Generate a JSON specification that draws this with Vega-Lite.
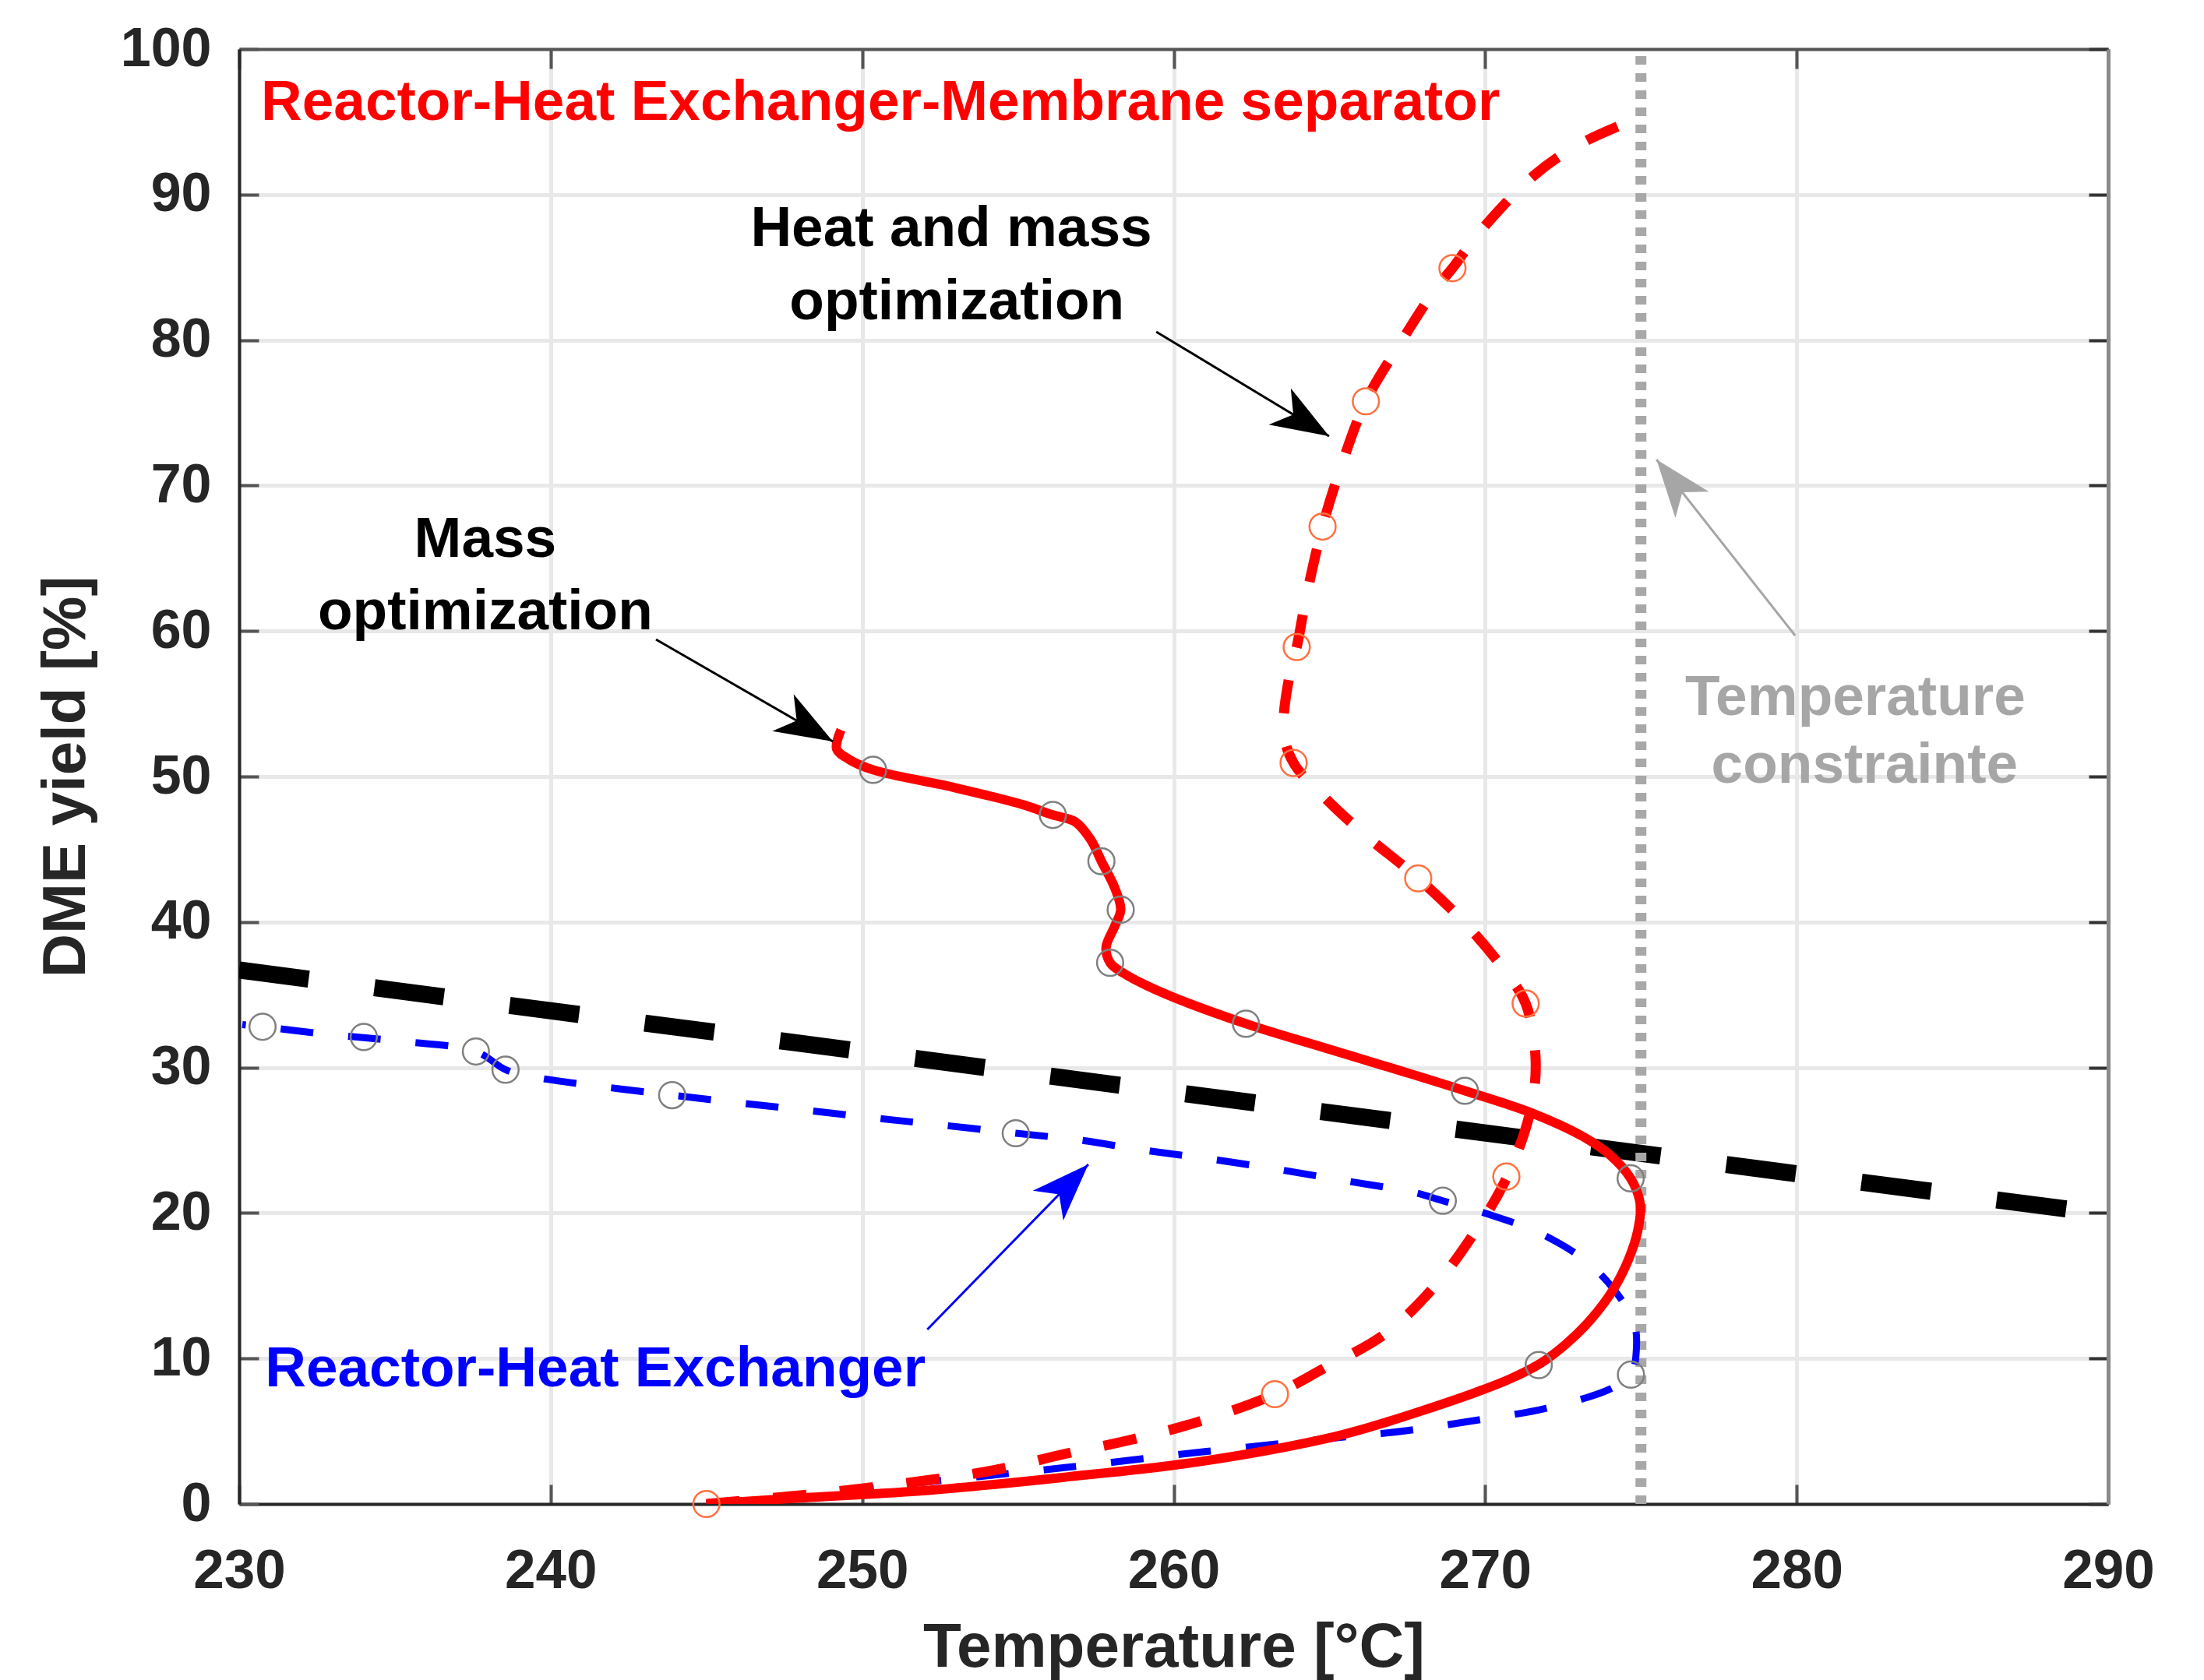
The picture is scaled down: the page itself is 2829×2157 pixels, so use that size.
{
  "$schema": "https://vega.github.io/schema/vega-lite/v6.json",
  "width": 2399,
  "height": 1868,
  "autosize": {"type": "none"},
  "padding": {"left": 307, "top": 63, "right": 123, "bottom": 226},
  "background": "white",
  "config": {"font": "Liberation Sans", "view": {"stroke": null}},
  "datasets": {
    "black": [{"T": 230, "Y": 36.7}, {"T": 290, "Y": 19.9}],
    "vline": [{"T": 275, "Y": 0}, {"T": 275, "Y": 100}],
    "curves": [
      {"g": "mass", "i": 0, "T": 245.0, "Y": 0},
      {"g": "mass", "i": 1, "T": 247.9, "Y": 0.4},
      {"g": "mass", "i": 2, "T": 252.2, "Y": 0.95},
      {"g": "mass", "i": 3, "T": 256.5, "Y": 1.84},
      {"g": "mass", "i": 4, "T": 260.8, "Y": 2.9},
      {"g": "mass", "i": 5, "T": 264.8, "Y": 4.45},
      {"g": "mass", "i": 6, "T": 266.4, "Y": 5.35},
      {"g": "mass", "i": 7, "T": 268.1, "Y": 6.5},
      {"g": "mass", "i": 8, "T": 269.6, "Y": 7.6},
      {"g": "mass", "i": 9, "T": 270.8, "Y": 8.6},
      {"g": "mass", "i": 10, "T": 271.8, "Y": 9.7},
      {"g": "mass", "i": 11, "T": 272.6, "Y": 11.0},
      {"g": "mass", "i": 12, "T": 273.4, "Y": 12.7},
      {"g": "mass", "i": 13, "T": 274.1, "Y": 14.7},
      {"g": "mass", "i": 14, "T": 274.6, "Y": 16.8},
      {"g": "mass", "i": 15, "T": 274.9, "Y": 18.8},
      {"g": "mass", "i": 16, "T": 274.98, "Y": 20.6},
      {"g": "mass", "i": 17, "T": 274.67, "Y": 22.38},
      {"g": "mass", "i": 18, "T": 274.0, "Y": 24.0},
      {"g": "mass", "i": 19, "T": 273.17, "Y": 25.22},
      {"g": "mass", "i": 20, "T": 271.5, "Y": 26.87},
      {"g": "mass", "i": 21, "T": 269.35, "Y": 28.4},
      {"g": "mass", "i": 22, "T": 267.34, "Y": 29.74},
      {"g": "mass", "i": 23, "T": 264.84, "Y": 31.36},
      {"g": "mass", "i": 24, "T": 262.32, "Y": 33.01},
      {"g": "mass", "i": 25, "T": 259.61, "Y": 35.17},
      {"g": "mass", "i": 26, "T": 258.39, "Y": 36.48},
      {"g": "mass", "i": 27, "T": 257.96, "Y": 37.2},
      {"g": "mass", "i": 28, "T": 257.83, "Y": 38.27},
      {"g": "mass", "i": 29, "T": 258.11, "Y": 39.72},
      {"g": "mass", "i": 30, "T": 258.30, "Y": 40.85},
      {"g": "mass", "i": 31, "T": 258.11, "Y": 42.34},
      {"g": "mass", "i": 32, "T": 257.68, "Y": 44.18},
      {"g": "mass", "i": 33, "T": 257.33, "Y": 45.68},
      {"g": "mass", "i": 34, "T": 256.83, "Y": 46.9},
      {"g": "mass", "i": 35, "T": 256.12, "Y": 47.36},
      {"g": "mass", "i": 36, "T": 255.15, "Y": 48.07},
      {"g": "mass", "i": 37, "T": 252.9, "Y": 49.27},
      {"g": "mass", "i": 38, "T": 250.35, "Y": 50.46},
      {"g": "mass", "i": 39, "T": 249.56, "Y": 51.2},
      {"g": "mass", "i": 40, "T": 249.18, "Y": 51.9},
      {"g": "mass", "i": 41, "T": 249.32, "Y": 53.2},
      {"g": "heat", "i": 0, "T": 245.0, "Y": 0},
      {"g": "heat", "i": 1, "T": 248.5, "Y": 0.7},
      {"g": "heat", "i": 2, "T": 252.2, "Y": 1.66},
      {"g": "heat", "i": 3, "T": 254.35, "Y": 2.37},
      {"g": "heat", "i": 4, "T": 256.5, "Y": 3.44},
      {"g": "heat", "i": 5, "T": 258.66, "Y": 4.43},
      {"g": "heat", "i": 6, "T": 260.82, "Y": 5.67},
      {"g": "heat", "i": 7, "T": 263.25, "Y": 7.55},
      {"g": "heat", "i": 8, "T": 264.83, "Y": 9.33},
      {"g": "heat", "i": 9, "T": 266.76, "Y": 11.65},
      {"g": "heat", "i": 10, "T": 268.34, "Y": 14.87},
      {"g": "heat", "i": 11, "T": 269.64, "Y": 18.6},
      {"g": "heat", "i": 12, "T": 270.68, "Y": 22.38},
      {"g": "heat", "i": 13, "T": 271.45, "Y": 27.0},
      {"g": "heat", "i": 14, "T": 271.62, "Y": 30.5},
      {"g": "heat", "i": 15, "T": 271.3, "Y": 34.4},
      {"g": "heat", "i": 16, "T": 270.68, "Y": 36.5},
      {"g": "heat", "i": 17, "T": 269.5, "Y": 39.58},
      {"g": "heat", "i": 18, "T": 267.85, "Y": 43.0},
      {"g": "heat", "i": 19, "T": 266.17, "Y": 45.94},
      {"g": "heat", "i": 20, "T": 264.92, "Y": 48.4},
      {"g": "heat", "i": 21, "T": 263.85, "Y": 50.93},
      {"g": "heat", "i": 22, "T": 263.53, "Y": 53.1},
      {"g": "heat", "i": 23, "T": 263.77, "Y": 57.5},
      {"g": "heat", "i": 24, "T": 263.95, "Y": 58.9},
      {"g": "heat", "i": 25, "T": 264.25, "Y": 62.27},
      {"g": "heat", "i": 26, "T": 264.78, "Y": 67.18},
      {"g": "heat", "i": 27, "T": 265.35, "Y": 71.14},
      {"g": "heat", "i": 28, "T": 266.17, "Y": 75.79},
      {"g": "heat", "i": 29, "T": 267.22, "Y": 79.6},
      {"g": "heat", "i": 30, "T": 268.42, "Y": 83.56},
      {"g": "heat", "i": 31, "T": 268.95, "Y": 84.94},
      {"g": "heat", "i": 32, "T": 269.76, "Y": 87.26},
      {"g": "heat", "i": 33, "T": 271.56, "Y": 91.3},
      {"g": "heat", "i": 34, "T": 273.02, "Y": 93.45},
      {"g": "heat", "i": 35, "T": 274.77, "Y": 95.13},
      {"g": "rhe", "i": 0, "T": 245.0, "Y": 0},
      {"g": "rhe", "i": 1, "T": 248.0, "Y": 0.6},
      {"g": "rhe", "i": 2, "T": 252.0, "Y": 1.5},
      {"g": "rhe", "i": 3, "T": 256.5, "Y": 2.5},
      {"g": "rhe", "i": 4, "T": 261.0, "Y": 3.6},
      {"g": "rhe", "i": 5, "T": 265.0, "Y": 4.5},
      {"g": "rhe", "i": 6, "T": 267.5, "Y": 5.05},
      {"g": "rhe", "i": 7, "T": 269.76, "Y": 5.77},
      {"g": "rhe", "i": 8, "T": 271.93, "Y": 6.57},
      {"g": "rhe", "i": 9, "T": 274.01, "Y": 7.9},
      {"g": "rhe", "i": 10, "T": 274.68, "Y": 8.89},
      {"g": "rhe", "i": 11, "T": 274.85, "Y": 10.5},
      {"g": "rhe", "i": 12, "T": 274.76, "Y": 12.54},
      {"g": "rhe", "i": 13, "T": 273.6, "Y": 16.02},
      {"g": "rhe", "i": 14, "T": 271.93, "Y": 18.43},
      {"g": "rhe", "i": 15, "T": 269.93, "Y": 20.04},
      {"g": "rhe", "i": 16, "T": 268.64, "Y": 20.84},
      {"g": "rhe", "i": 17, "T": 267.73, "Y": 21.4},
      {"g": "rhe", "i": 18, "T": 265.56, "Y": 22.2},
      {"g": "rhe", "i": 19, "T": 263.39, "Y": 22.98},
      {"g": "rhe", "i": 20, "T": 261.22, "Y": 23.7},
      {"g": "rhe", "i": 21, "T": 259.05, "Y": 24.32},
      {"g": "rhe", "i": 22, "T": 256.88, "Y": 25.04},
      {"g": "rhe", "i": 23, "T": 254.93, "Y": 25.48},
      {"g": "rhe", "i": 24, "T": 252.48, "Y": 26.06},
      {"g": "rhe", "i": 25, "T": 250.31, "Y": 26.55},
      {"g": "rhe", "i": 26, "T": 248.09, "Y": 27.09},
      {"g": "rhe", "i": 27, "T": 243.9, "Y": 28.1},
      {"g": "rhe", "i": 28, "T": 239.32, "Y": 29.4},
      {"g": "rhe", "i": 29, "T": 238.55, "Y": 29.85},
      {"g": "rhe", "i": 30, "T": 237.6, "Y": 31.1},
      {"g": "rhe", "i": 31, "T": 235.17, "Y": 31.81},
      {"g": "rhe", "i": 32, "T": 232.94, "Y": 32.26},
      {"g": "rhe", "i": 33, "T": 230.75, "Y": 32.8},
      {"g": "rhe", "i": 34, "T": 230.1, "Y": 32.95}
    ],
    "markers": [
      {"g": "mk", "T": 250.35, "Y": 50.46},
      {"g": "mk", "T": 256.12, "Y": 47.36},
      {"g": "mk", "T": 257.68, "Y": 44.18},
      {"g": "mk", "T": 258.30, "Y": 40.85},
      {"g": "mk", "T": 257.96, "Y": 37.2},
      {"g": "mk", "T": 262.32, "Y": 33.01},
      {"g": "mk", "T": 269.35, "Y": 28.4},
      {"g": "mk", "T": 274.67, "Y": 22.38},
      {"g": "mk", "T": 271.72, "Y": 9.55},
      {"g": "mk", "T": 274.68, "Y": 8.89},
      {"g": "mk", "T": 268.64, "Y": 20.84},
      {"g": "mk", "T": 254.93, "Y": 25.48},
      {"g": "mk", "T": 243.9, "Y": 28.1},
      {"g": "mk", "T": 238.55, "Y": 29.85},
      {"g": "mk", "T": 237.6, "Y": 31.1},
      {"g": "mk", "T": 234.0, "Y": 32.1},
      {"g": "mk", "T": 230.75, "Y": 32.8},
      {"g": "orange", "T": 245.0, "Y": 0},
      {"g": "orange", "T": 263.25, "Y": 7.55},
      {"g": "orange", "T": 270.68, "Y": 22.5},
      {"g": "orange", "T": 271.3, "Y": 34.4},
      {"g": "orange", "T": 267.85, "Y": 43.0},
      {"g": "orange", "T": 263.85, "Y": 50.93},
      {"g": "orange", "T": 263.95, "Y": 58.9},
      {"g": "orange", "T": 264.78, "Y": 67.18},
      {"g": "orange", "T": 266.17, "Y": 75.79},
      {"g": "orange", "T": 268.95, "Y": 84.94}
    ],
    "arrows": [
      {"g": "black", "T": 259.44, "Y": 80.57, "T2": 264.99, "Y2": 73.39, "ang": 121.1},
      {"g": "black", "T": 243.38, "Y": 59.42, "T2": 249.06, "Y2": 52.41, "ang": 120.0},
      {"g": "gray", "T": 279.95, "Y": 59.69, "T2": 275.50, "Y2": 71.79, "ang": 321.8},
      {"g": "blue", "T": 252.09, "Y": 11.99, "T2": 257.26, "Y2": 23.34, "ang": 44.3}
    ],
    "textL": [
      {"g": "red", "T": 230.70, "Y": 95.13, "txt": "Reactor-Heat Exchanger-Membrane separator"},
      {"g": "blue", "T": 230.83, "Y": 8.08, "txt": "Reactor-Heat Exchanger"}
    ],
    "textC": [
      {"g": "black", "T": 252.86, "Y": 86.45, "txt": "Heat and mass"},
      {"g": "black", "T": 253.04, "Y": 81.42, "txt": "optimization"},
      {"g": "black", "T": 237.90, "Y": 65.10, "txt": "Mass"},
      {"g": "black", "T": 237.90, "Y": 60.12, "txt": "optimization"},
      {"g": "gray", "T": 281.88, "Y": 54.23, "txt": "Temperature"},
      {"g": "gray", "T": 282.18, "Y": 49.57, "txt": "constrainte"}
    ]
  },
  "layer": [
    {
      "data": {"name": "black"},
      "mark": {"type": "line", "color": "#000000", "strokeWidth": 22, "strokeDash": [90, 85], "strokeCap": "butt", "clip": true},
      "encoding": {
        "x": {"field": "T", "type": "quantitative", "scale": {"domain": [230, 290], "nice": false, "zero": false},
          "axis": {"orient": "bottom", "values": [230, 240, 250, 260, 270, 280, 290], "title": "Temperature [°C]",
            "titleFontSize": 80, "titleFontWeight": "bold", "titleColor": "#262626", "titlePadding": 24,
            "labelFontSize": 71, "labelFontWeight": "bold", "labelColor": "#262626", "labelPadding": 76, "labelFlush": false,
            "ticks": true, "tickSize": -25, "tickColor": "#555555", "tickWidth": 4,
            "domain": true, "domainColor": "#262626", "domainWidth": 4,
            "grid": true, "gridColor": "#e8e8e8", "gridWidth": 5}},
        "y": {"field": "Y", "type": "quantitative", "scale": {"domain": [0, 100], "nice": false, "zero": false},
          "axis": {"orient": "left", "values": [0, 10, 20, 30, 40, 50, 60, 70, 80, 90, 100], "title": "DME yield [%]",
            "titleFontSize": 78, "titleFontWeight": "bold", "titleColor": "#262626", "titlePadding": 30,
            "labelFontSize": 70, "labelFontWeight": "bold", "labelColor": "#262626", "labelPadding": 61, "labelFlush": false,
            "ticks": true, "tickSize": -25, "tickColor": "#555555", "tickWidth": 4,
            "domain": true, "domainColor": "#262626", "domainWidth": 4,
            "grid": true, "gridColor": "#e8e8e8", "gridWidth": 5}}
      }
    },
    {
      "data": {"name": "vline"},
      "mark": {"type": "line", "color": "#a8a8a8", "strokeWidth": 14, "strokeDash": [11, 11], "strokeCap": "butt"},
      "encoding": {
        "x": {"field": "T", "type": "quantitative", "scale": {"domain": [230, 290], "nice": false, "zero": false},
          "axis": {"orient": "top", "values": [230, 240, 250, 260, 270, 280, 290], "title": null, "labels": false,
            "ticks": true, "tickSize": -25, "tickColor": "#555555", "tickWidth": 4,
            "domain": true, "domainColor": "#555555", "domainWidth": 4, "grid": false}},
        "y": {"field": "Y", "type": "quantitative", "scale": {"domain": [0, 100], "nice": false, "zero": false},
          "axis": {"orient": "right", "values": [0, 10, 20, 30, 40, 50, 60, 70, 80, 90, 100], "title": null, "labels": false,
            "ticks": true, "tickSize": -25, "tickColor": "#333333", "tickWidth": 4,
            "domain": true, "domainColor": "#8a8a8a", "domainWidth": 5, "grid": false}}
      }
    },
    {
      "data": {"name": "curves"},
      "transform": [{"filter": "datum.g === 'rhe'"}],
      "mark": {"type": "line", "color": "#0000ff", "strokeWidth": 9, "strokeDash": [42, 45], "strokeCap": "butt", "interpolate": "catmull-rom", "clip": true},
      "encoding": {
        "x": {"field": "T", "type": "quantitative", "axis": null},
        "y": {"field": "Y", "type": "quantitative", "axis": null},
        "order": {"field": "i", "type": "quantitative"}
      }
    },
    {
      "data": {"name": "curves"},
      "transform": [{"filter": "datum.g === 'heat'"}],
      "mark": {"type": "line", "color": "#ff0000", "strokeWidth": 13, "strokeDash": [43, 43], "strokeCap": "butt", "interpolate": "catmull-rom", "clip": true},
      "encoding": {
        "x": {"field": "T", "type": "quantitative", "axis": null},
        "y": {"field": "Y", "type": "quantitative", "axis": null},
        "order": {"field": "i", "type": "quantitative"}
      }
    },
    {
      "data": {"name": "curves"},
      "transform": [{"filter": "datum.g === 'mass'"}],
      "mark": {"type": "line", "color": "#ff0000", "strokeWidth": 12, "strokeJoin": "round", "interpolate": "catmull-rom", "clip": true},
      "encoding": {
        "x": {"field": "T", "type": "quantitative", "axis": null},
        "y": {"field": "Y", "type": "quantitative", "axis": null},
        "order": {"field": "i", "type": "quantitative"}
      }
    },
    {
      "data": {"name": "markers"},
      "mark": {"type": "point", "shape": "circle", "filled": false, "size": 1134, "strokeWidth": 2.5, "opacity": 1},
      "encoding": {
        "x": {"field": "T", "type": "quantitative", "axis": null},
        "y": {"field": "Y", "type": "quantitative", "axis": null},
        "color": {"field": "g", "type": "nominal", "legend": null,
          "scale": {"domain": ["red", "blue", "black", "gray", "orange", "mk"], "range": ["#ff0000", "#0000ff", "#000000", "#a6a6a6", "#ff7040", "#808080"]}}
      }
    },
    {
      "data": {"name": "arrows"},
      "mark": {"type": "rule", "strokeWidth": 3},
      "encoding": {
        "x": {"field": "T", "type": "quantitative", "axis": null},
        "y": {"field": "Y", "type": "quantitative", "axis": null},
        "x2": {"field": "T2"},
        "y2": {"field": "Y2"},
        "color": {"field": "g", "type": "nominal", "legend": null,
          "scale": {"domain": ["red", "blue", "black", "gray", "orange", "mk"], "range": ["#ff0000", "#0000ff", "#000000", "#a6a6a6", "#ff7040", "#808080"]}}
      }
    },
    {
      "data": {"name": "arrows"},
      "mark": {"type": "point", "shape": "M0,0 L0.74,2 L0,1.45 L-0.74,2 Z", "filled": true, "size": 5476, "opacity": 1, "strokeWidth": 0},
      "encoding": {
        "x": {"field": "T2", "type": "quantitative", "axis": null},
        "y": {"field": "Y2", "type": "quantitative", "axis": null},
        "angle": {"field": "ang", "type": "quantitative", "scale": null},
        "color": {"field": "g", "type": "nominal", "legend": null,
          "scale": {"domain": ["red", "blue", "black", "gray", "orange", "mk"], "range": ["#ff0000", "#0000ff", "#000000", "#a6a6a6", "#ff7040", "#808080"]}}
      }
    },
    {
      "data": {"name": "textL"},
      "mark": {"type": "text", "align": "left", "baseline": "alphabetic", "fontSize": 73, "fontWeight": "bold"},
      "encoding": {
        "x": {"field": "T", "type": "quantitative", "axis": null},
        "y": {"field": "Y", "type": "quantitative", "axis": null},
        "text": {"field": "txt"},
        "color": {"field": "g", "type": "nominal", "legend": null,
          "scale": {"domain": ["red", "blue", "black", "gray", "orange", "mk"], "range": ["#ff0000", "#0000ff", "#000000", "#a6a6a6", "#ff7040", "#808080"]}}
      }
    },
    {
      "data": {"name": "textC"},
      "mark": {"type": "text", "align": "center", "baseline": "alphabetic", "fontSize": 73, "fontWeight": "bold"},
      "encoding": {
        "x": {"field": "T", "type": "quantitative", "axis": null},
        "y": {"field": "Y", "type": "quantitative", "axis": null},
        "text": {"field": "txt"},
        "color": {"field": "g", "type": "nominal", "legend": null,
          "scale": {"domain": ["red", "blue", "black", "gray", "orange", "mk"], "range": ["#ff0000", "#0000ff", "#000000", "#a6a6a6", "#ff7040", "#808080"]}}
      }
    }
  ],
  "resolve": {"axis": {"x": "independent", "y": "independent"}}
}
